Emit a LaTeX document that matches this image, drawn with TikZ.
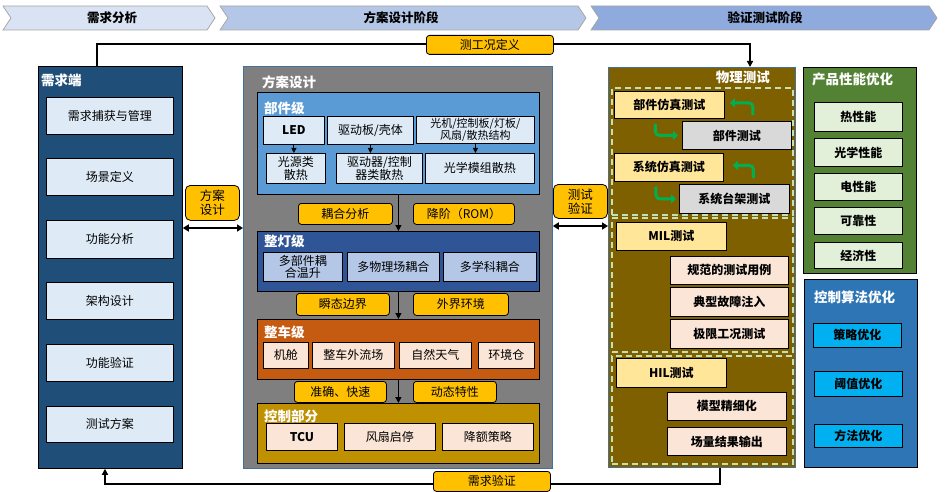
\documentclass[tikz,border=0pt]{standalone}
\usepackage{fontspec}
\setmainfont{Noto Sans CJK SC}
\usetikzlibrary{arrows.meta,calc}
\definecolor{reqblue}{HTML}{1F4E79}
\definecolor{paleblue}{HTML}{DEEBF7}
\definecolor{midgray}{HTML}{7F7F7F}
\definecolor{compblue}{HTML}{5B9BD5}
\definecolor{lampblue}{HTML}{2F5597}
\definecolor{lampin}{HTML}{B4C7E7}
\definecolor{carorange}{HTML}{C55A11}
\definecolor{peach}{HTML}{FBE5D6}
\definecolor{ctrlgold}{HTML}{BF9000}
\definecolor{lblyellow}{HTML}{FFC000}
\definecolor{physbrown}{HTML}{7F6000}
\definecolor{lightyellow}{HTML}{FFE699}
\definecolor{lightgray}{HTML}{D9D9D9}
\definecolor{dashgreen}{HTML}{C5E0B4}
\definecolor{arrgreen}{HTML}{00B050}
\definecolor{perfgreen}{HTML}{548235}
\definecolor{perfin}{HTML}{E2F0D9}
\definecolor{algblue}{HTML}{2E75B6}
\definecolor{algin}{HTML}{00B0F0}
\definecolor{chev1}{HTML}{DAE3F3}
\definecolor{chev2}{HTML}{B4C7E7}
\definecolor{chev3}{HTML}{8FAADC}
\definecolor{borderblue}{HTML}{41719C}
\newcommand\mybox[7]{%
  \pgfmathsetmacro\bw{#5-#3}\pgfmathsetmacro\bh{#6-#4}%
  \node[#1,anchor=north west,minimum width=\bw pt,minimum height=\bh pt,inner sep=0pt] (#2) at (#3,#4) {#7};}
\begin{document}
\begin{tikzpicture}[x=1pt,y=-1pt,
  inner/.style={draw=black,line width=0.8pt,align=center,text=black,font=\fontsize{12}{14}\selectfont},
  innerb/.style={inner,font=\fontsize{12}{14}\selectfont\bfseries},
  small/.style={inner,font=\fontsize{11}{12.5}\selectfont},
  cont/.style={draw=black,line width=0.8pt},
  title/.style={anchor=west,text=white,font=\fontsize{13.5}{15}\selectfont\bfseries,inner sep=0pt},
  lbl/.style={draw=black,line width=0.8pt,fill=lblyellow,rounded corners=3pt,align=center,text=black,font=\fontsize{12}{13}\selectfont},
  chev/.style={draw=black!35,line width=0.8pt},
  chevtxt/.style={text=black,font=\fontsize{12.5}{14}\selectfont\bfseries},
  arr/.style={line width=1.4pt,-{Triangle[length=6pt,width=6pt]}},
  darr/.style={line width=1.8pt,{Triangle[length=6pt,width=7pt]}-{Triangle[length=6pt,width=7pt]}},
  sarr/.style={line width=1pt,-{Triangle[length=5pt,width=5pt]}},
  garr/.style={line width=3pt,draw=arrgreen,rounded corners=4pt,-{Triangle[length=5pt,width=9pt]}},
  dashbox/.style={draw=dashgreen,line width=2pt,dash pattern=on 6pt off 4pt}
]
\useasboundingbox (0,0) rectangle (945,492);
\fill[white] (0,0) rectangle (945,492);

% banner chevrons
\draw[chev,fill=chev1] (3,6) -- (207,6) -- (215,18) -- (207,30) -- (3,30) -- (11,18) -- cycle;
\draw[chev,fill=chev2] (220,6) -- (578,6) -- (586,18) -- (578,30) -- (220,30) -- (228,18) -- cycle;
\draw[chev,fill=chev3] (591,6) -- (929,6) -- (937,18) -- (929,30) -- (591,30) -- (599,18) -- cycle;
\node[chevtxt] (ph1) at (112,18) {需求分析};
\node[chevtxt] (ph2) at (401,18) {方案设计阶段};
\node[chevtxt] (ph3) at (765,18) {验证测试阶段};

% left requirement column
\mybox{cont,fill=reqblue}{req}{38}{66}{182}{468}{}
\node[title] (reqt) at (41,80) {需求端};
\mybox{inner,fill=paleblue}{r1}{46}{97}{173}{134}{需求捕获与管理}
\mybox{inner,fill=paleblue}{r2}{46}{158}{173}{195}{场景定义}
\mybox{inner,fill=paleblue}{r3}{46}{220}{173}{258}{功能分析}
\mybox{inner,fill=paleblue}{r4}{46}{282}{173}{319}{架构设计}
\mybox{inner,fill=paleblue}{r5}{46}{344}{173}{381}{功能验证}
\mybox{inner,fill=paleblue}{r6}{46}{406}{173}{442}{测试方案}

% middle design column
\mybox{draw=borderblue,line width=0.8pt,fill=midgray}{mid}{243}{66}{552}{468}{}
\node[title] (midt) at (262,82) {方案设计};
\mybox{cont,fill=compblue}{comp}{257}{92}{539}{194}{}
\node[title] (compt) at (264,108) {部件级};
\mybox{innerb,fill=paleblue}{led}{263}{116}{324}{144}{LED}
\mybox{inner,fill=paleblue}{drv}{327}{116}{413}{144}{驱动板/壳体}
\mybox{small,fill=paleblue}{opt}{416}{116}{534}{143}{光机/控制板/灯板/\\风扇/散热结构}
\mybox{inner,fill=paleblue,font=\fontsize{12}{13.5}\selectfont}{s1}{266}{153}{325}{183}{光源类\\散热}
\mybox{inner,fill=paleblue,font=\fontsize{12}{13.5}\selectfont}{s2}{336}{153}{422}{183}{驱动器/控制\\器类散热}
\mybox{inner,fill=paleblue}{s3}{425}{153}{534}{183}{光学模组散热}
\draw[sarr] (led.south) -- (led.south |- s1.north);
\draw[sarr] (drv.south) -- (drv.south |- s2.north);
\draw[sarr] (opt.south) -- (opt.south |- s3.north);

\mybox{lbl}{lblA}{298}{203}{392}{224}{耦合分析}
\mybox{lbl}{lblB}{413}{203}{514}{224}{降阶（ROM）}

\mybox{cont,fill=lampblue}{lamp}{257}{231}{539}{291}{}
\node[title] (lampt) at (264,241) {整灯级};
\mybox{inner,fill=lampin,font=\fontsize{12}{12.5}\selectfont}{l1}{263}{252}{342}{281}{多部件耦\\合温升}
\mybox{inner,fill=lampin}{l2}{347}{252}{439}{281}{多物理场耦合}
\mybox{inner,fill=lampin}{l3}{443}{252}{536}{281}{多学科耦合}

\mybox{lbl}{lblC}{296}{293}{389}{315}{瞬态边界}
\mybox{lbl}{lblD}{413}{293}{508}{315}{外界环境}

\mybox{cont,fill=carorange}{car}{257}{319}{539}{379}{}
\node[title] (cart) at (264,332) {整车级};
\mybox{inner,fill=peach}{c1}{263}{342}{308}{368}{机舱}
\mybox{inner,fill=peach}{c2}{312}{342}{394}{368}{整车外流场}
\mybox{inner,fill=peach}{c3}{399}{342}{471}{368}{自然天气}
\mybox{inner,fill=peach}{c4}{478}{342}{534}{368}{环境仓}

\mybox{lbl}{lblE}{294}{381}{386}{402}{准确、快速}
\mybox{lbl}{lblF}{413}{381}{496}{402}{动态特性}

\mybox{cont,fill=ctrlgold}{ctrl}{257}{403}{539}{463}{}
\node[title] (ctrlt) at (264,416) {控制部分};
\mybox{innerb,fill=peach}{k1}{266}{423}{337}{450}{TCU}
\mybox{inner,fill=peach}{k2}{344}{423}{435}{450}{风扇启停}
\mybox{inner,fill=peach}{k3}{442}{423}{533}{450}{降额策略}

\draw[arr] (comp.south) -- (lamp.north);
\draw[arr] (lamp.south) -- (car.north);
\draw[arr] (car.south) -- (ctrl.north);

% physical test column
\mybox{draw=borderblue,line width=0.8pt,fill=physbrown}{phys}{608}{67}{795}{467}{}
\node[title,anchor=east] (physt) at (770,77) {物理测试};
\mybox{dashbox}{R1}{611}{87}{792}{214}{}
\mybox{dashbox}{R2}{611}{217}{792}{351}{}
\mybox{dashbox}{R3}{611}{355}{792}{463}{}
\mybox{innerb,fill=lightyellow}{pst}{614}{91}{724}{118}{部件仿真测试}
\mybox{innerb,fill=lightgray}{pt}{682}{121}{791}{149}{部件测试}
\mybox{innerb,fill=lightyellow}{sst}{614}{153}{723}{181}{系统仿真测试}
\mybox{innerb,fill=lightgray}{sbt}{679}{184}{789}{213}{系统台架测试}
\draw[garr] ([xshift=16pt,yshift=6pt]pt.north) |- ([xshift=5pt,yshift=2pt]pst.east);
\draw[garr] ([xshift=-14pt,yshift=-5pt]pst.south) |- ([xshift=-4pt]pt.west);
\draw[garr] ([xshift=19pt,yshift=6pt]sbt.north) |- ([xshift=9pt,yshift=2pt]sst.east);
\draw[garr] ([xshift=-13pt,yshift=-5pt]sst.south) |- ([xshift=-3pt]sbt.west);

\mybox{innerb,fill=lightyellow}{mil}{616}{222}{726}{250}{MIL测试}
\mybox{innerb,fill=peach}{m1}{670}{256}{788}{284}{规范的测试用例}
\mybox{innerb,fill=peach}{m2}{670}{287}{788}{316}{典型故障注入}
\mybox{innerb,fill=peach}{m3}{670}{319}{788}{348}{极限工况测试}
\mybox{innerb,fill=lightyellow}{hil}{616}{358}{726}{387}{HIL测试}
\mybox{innerb,fill=peach}{h1}{667}{392}{786}{420}{模型精细化}
\mybox{innerb,fill=peach}{h2}{667}{427}{786}{455}{场量结果输出}

% right optimisation columns
\mybox{cont,fill=perfgreen}{perf}{803}{67}{916}{273}{}
\node[title] (perft) at (812,79) {产品性能优化};
\mybox{innerb,fill=perfin}{p1}{814}{102}{902}{131}{热性能}
\mybox{innerb,fill=perfin}{p2}{814}{138}{902}{166}{光学性能}
\mybox{innerb,fill=perfin}{p3}{814}{173}{902}{200}{电性能}
\mybox{innerb,fill=perfin}{p4}{814}{207}{902}{234}{可靠性}
\mybox{innerb,fill=perfin}{p5}{814}{242}{902}{268}{经济性}

\mybox{cont,fill=algblue}{alg}{804}{279}{917}{467}{}
\node[title] (algt) at (814,297) {控制算法优化};
\mybox{innerb,fill=algin}{a1}{813}{323}{901}{347}{策略优化}
\mybox{innerb,fill=algin}{a2}{814}{371}{902}{396}{阈值优化}
\mybox{innerb,fill=algin}{a3}{814}{424}{902}{447}{方法优化}

% connectors between columns
\draw[arr] ($(req.north west)+(59,0)$) -- ++(0,-22) -| ($(phys.north west)+(142,0)$);
\mybox{lbl}{lblTop}{426}{35}{553}{54}{测工况定义}
\draw[arr] ($(phys.south west)+(112,0)$) -- ++(0,16) -| ($(req.south west)+(67,0)$);
\mybox{lbl}{lblBot}{433}{471}{550}{491}{需求验证}

\draw[darr] ($(req.north east)+(0,162)$) -- ($(mid.north west)+(0,162)$);
\mybox{lbl,rounded corners=5pt,font=\fontsize{12.5}{14}\selectfont}{lblDesign}{185}{185}{239}{220}{方案\\设计}
\draw[darr] ($(mid.north east)+(0,160)$) -- ($(phys.north west)+(0,159)$);
\mybox{lbl,rounded corners=5pt,font=\fontsize{12.5}{14}\selectfont}{lblTest}{553}{184}{607}{218}{测试\\验证}
\end{tikzpicture}
\end{document}
